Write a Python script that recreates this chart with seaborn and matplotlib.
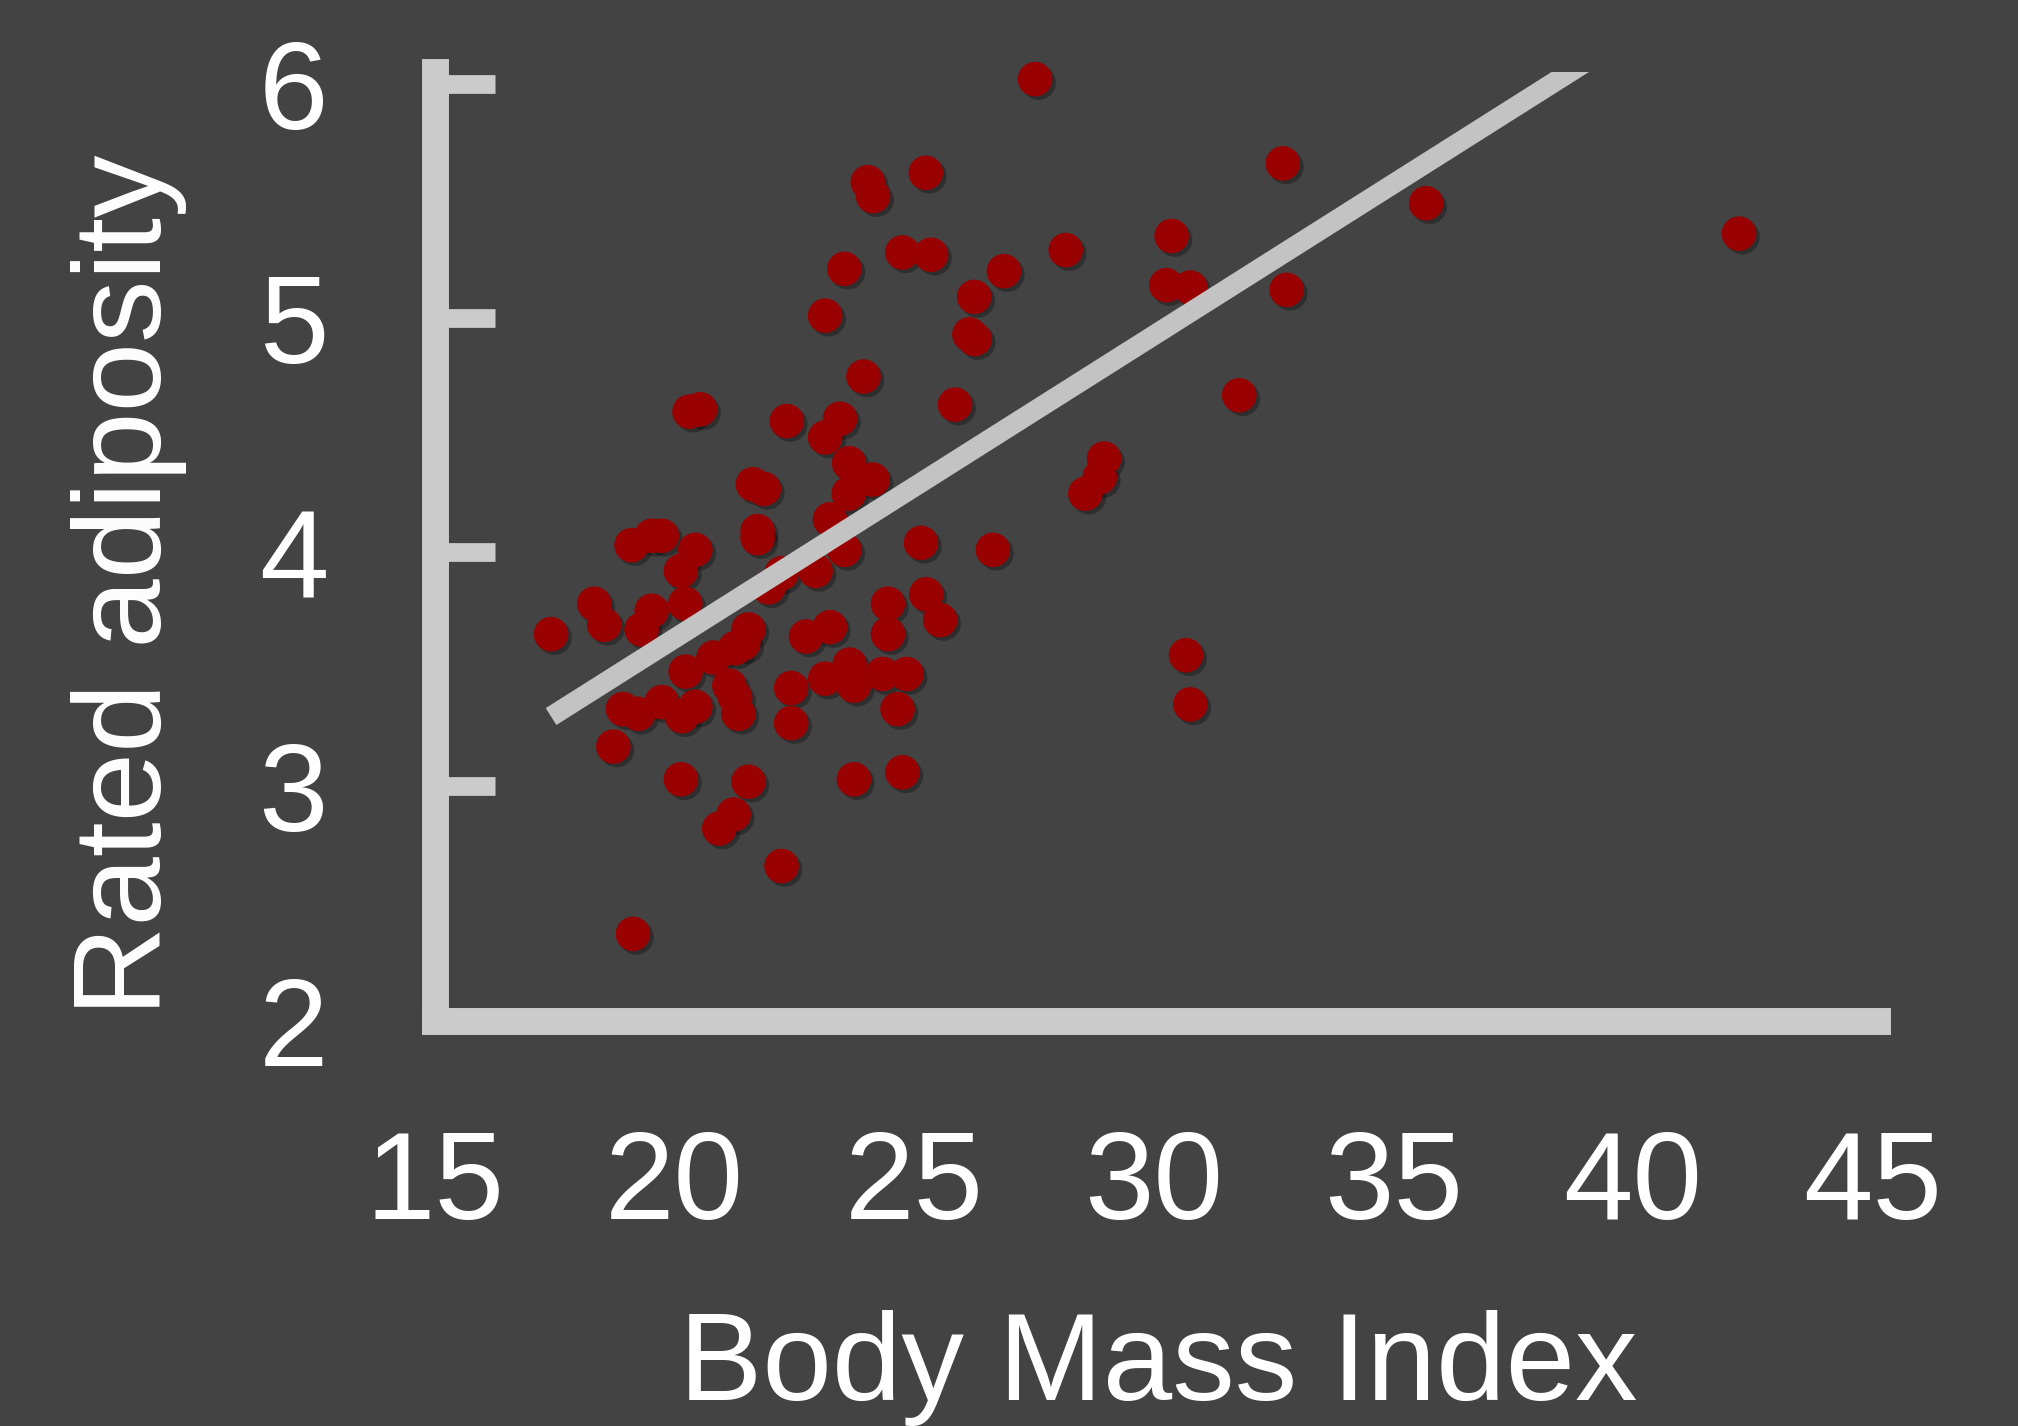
import matplotlib
matplotlib.use("Agg")
import matplotlib.pyplot as plt
import matplotlib.patheffects as pe
import numpy as np
import pandas as pd
import seaborn as sns

# ---- data ----
bmi = [27.52, 24.03, 24.14, 25.24, 23.54, 24.75, 25.35, 26.87, 28.16, 26.25,
       23.14, 26.15, 26.26, 23.94, 25.85, 20.31, 20.53, 22.34, 23.45, 23.14,
       23.64, 24.13, 21.63, 21.86, 23.63, 23.24, 23.54, 21.73, 21.73, 22.94,
       22.23, 21.96, 25.14, 26.64, 19.10, 19.52, 19.73, 20.43, 20.13, 20.22,
       18.32, 18.53, 19.52, 19.31, 17.42, 21.54, 21.43, 21.26, 20.81, 20.23,
       21.14, 21.26, 21.33, 22.74, 23.24, 24.45, 24.45, 25.25, 25.54, 22.43,
       22.43, 23.14, 23.65, 23.74, 24.34, 24.84, 24.65, 18.92, 19.24, 19.73,
       20.15, 20.43, 18.72, 20.13, 21.54, 23.74, 24.75, 21.23, 20.93, 22.23,
       19.13, 32.69, 35.68, 42.21, 30.37, 30.26, 30.76, 32.77, 31.78, 28.96,
       28.87, 28.57, 30.67, 30.76]
adiposity = [6.02, 5.58, 5.52, 5.62, 5.21, 5.28, 5.27, 5.20, 5.29, 5.09,
             5.01, 4.93, 4.91, 4.75, 4.63, 4.60, 4.61, 4.56, 4.57, 4.49,
             4.38, 4.31, 4.29, 4.27, 4.25, 4.14, 4.01, 4.09, 4.06, 3.92,
             3.91, 3.85, 4.04, 4.01, 4.03, 4.07, 4.07, 4.01, 3.92, 3.78,
             3.78, 3.69, 3.75, 3.67, 3.65, 3.67, 3.61, 3.59, 3.55, 3.49,
             3.43, 3.38, 3.31, 3.64, 3.68, 3.78, 3.65, 3.82, 3.71, 3.42,
             3.27, 3.46, 3.52, 3.43, 3.48, 3.48, 3.33, 3.33, 3.31, 3.36,
             3.30, 3.34, 3.17, 3.03, 3.02, 3.03, 3.06, 2.88, 2.82, 2.66,
             2.37, 5.66, 5.49, 5.36, 5.35, 5.14, 5.13, 5.12, 4.67, 4.40,
             4.32, 4.25, 3.56, 3.35]
# fitted trend line as shown in the reference (slope / intercept)
fit_slope = 0.1294
fit_intercept = 1.044
x_ticks = [15, 20, 25, 30, 35, 40, 45]
y_ticks = [2, 3, 4, 5, 6]
x_label = "Body Mass Index"
y_label = "Rated adiposity"

df = pd.DataFrame({"bmi": bmi, "adiposity": adiposity})
fit_x = np.array([min(bmi), max(bmi)])
fit_df = pd.DataFrame({"bmi": fit_x, "adiposity": fit_intercept + fit_slope * fit_x})

BG = "#434343"
AXC = "#cbcbcb"
LINEC = "#c3c3c3"
DOT = "#990000"

sns.set_style("white")
plt.rcParams["font.family"] = ["Liberation Sans", "DejaVu Sans"]

fig = plt.figure(figsize=(20.18, 14.26), dpi=100, facecolor=BG)
YTOP = 6.05
ax_top = (1020.6 - (YTOP - 2) * 234.2)
ax = fig.add_axes([0.2156, 0.2843, 0.7143, (1020.6 - ax_top) / 1426])
ax.set_facecolor(BG)

sns.scatterplot(data=df, x="bmi", y="adiposity", ax=ax, color=DOT,
                s=620, linewidth=0, alpha=1, zorder=2, clip_on=False)
for coll in ax.collections:
    coll.set_path_effects([pe.SimplePatchShadow(offset=(2.5, -2.5), shadow_rgbFace="black", alpha=0.3),
                           pe.Normal()])

sns.lineplot(data=fit_df, x="bmi", y="adiposity", ax=ax, color=LINEC, lw=14.4,
             solid_capstyle="butt", zorder=3)

ax.set_xlim(15, 45.08)
ax.set_ylim(2, YTOP)
ax.set_xticks(x_ticks)
ax.set_yticks(y_ticks)
ax.set_xticklabels([str(t) for t in x_ticks])
ax.set_yticklabels([str(t) for t in y_ticks])

for side in ["top", "right"]:
    ax.spines[side].set_visible(False)
for side in ["left", "bottom"]:
    sp = ax.spines[side]
    sp.set_visible(True)
    sp.set_color(AXC)
    sp.set_linewidth(19.4)
    sp.set_capstyle("projecting")
    sp.set_zorder(4)

ax.tick_params(axis="y", which="major", left=True, direction="in", length=43, width=13.5,
               color=AXC, labelsize=90, labelcolor="white", pad=77)
ax.tick_params(axis="x", bottom=False, direction="in", length=0, labelsize=90,
               labelcolor="white", pad=78)

ax.set_xlabel(x_label, fontsize=90, color="white")
ax.set_ylabel(y_label, fontsize=90, color="white")
ax.xaxis.set_label_coords(0.5739, 0.0813, transform=fig.transFigure)
ax.yaxis.set_label_coords(0.0927, 0.5893, transform=fig.transFigure)

fig.savefig("out.png", dpi=100, facecolor=BG)
